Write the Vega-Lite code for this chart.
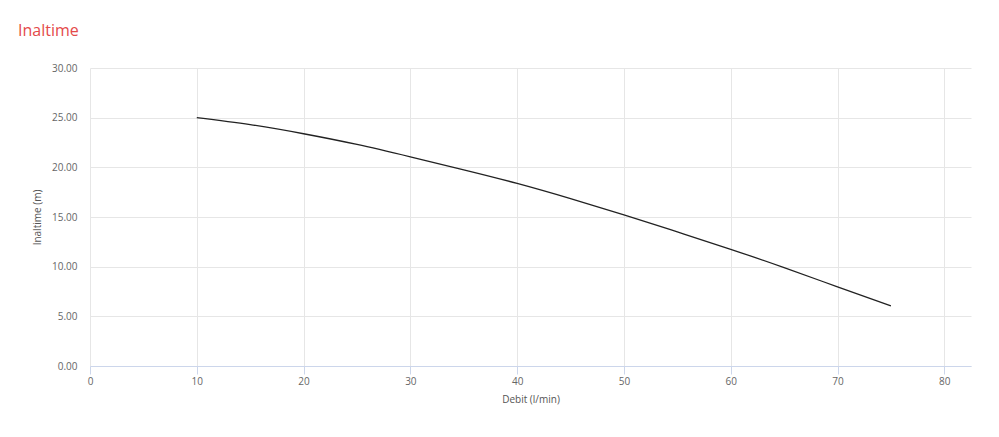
{
  "$schema": "https://vega.github.io/schema/vega-lite/v6.json",
  "width": 881,
  "height": 298,
  "autosize": {"type": "none"},
  "padding": {"left": 90, "top": 68, "right": 28, "bottom": 71},
  "background": "#ffffff",
  "title": {
    "text": "Inaltime",
    "anchor": "start",
    "frame": "group",
    "dx": -72,
    "offset": 24,
    "font": "Open Sans",
    "fontSize": 16,
    "fontWeight": "normal",
    "color": "#e44a4a"
  },
  "config": {
    "view": {"stroke": null},
    "font": "Open Sans"
  },
  "data": {
    "values": [
      {"debit": 10, "h": 25.0},
      {"debit": 15, "h": 24.3},
      {"debit": 20, "h": 23.38},
      {"debit": 25, "h": 22.3},
      {"debit": 30, "h": 21.05},
      {"debit": 35, "h": 19.75},
      {"debit": 40, "h": 18.38},
      {"debit": 45, "h": 16.85},
      {"debit": 50, "h": 15.22},
      {"debit": 55, "h": 13.5},
      {"debit": 60, "h": 11.75},
      {"debit": 65, "h": 9.9},
      {"debit": 70, "h": 7.97},
      {"debit": 75, "h": 6.05}
    ]
  },
  "mark": {"type": "line", "color": "#222222", "strokeWidth": 1.3, "interpolate": "natural"},
  "encoding": {
    "x": {
      "field": "debit",
      "type": "quantitative",
      "scale": {"domain": [0, 82.5], "nice": false, "zero": false},
      "axis": {
        "title": "Debit (l/min)",
        "values": [0, 10, 20, 30, 40, 50, 60, 70, 80],
        "format": "d",
        "labelFlush": false,
        "domainColor": "#ccd6eb",
        "tickColor": "#ccd6eb",
        "tickSize": 8,
        "gridColor": "#e6e6e6",
        "labelColor": "#666666",
        "labelFontSize": 10,
        "labelPadding": 2,
        "titleColor": "#555555",
        "titleFontSize": 10,
        "titleFontWeight": "normal",
        "titlePadding": 8
      }
    },
    "y": {
      "field": "h",
      "type": "quantitative",
      "scale": {"domain": [0, 30], "nice": false},
      "axis": {
        "title": "Inaltime (m)",
        "values": [0, 5, 10, 15, 20, 25, 30],
        "format": ".2f",
        "domain": false,
        "ticks": false,
        "gridColor": "#e6e6e6",
        "labelColor": "#666666",
        "labelFontSize": 10,
        "labelPadding": 13,
        "titleColor": "#555555",
        "titleFontSize": 10,
        "titleFontWeight": "normal",
        "titlePadding": 9
      }
    }
  }
}
